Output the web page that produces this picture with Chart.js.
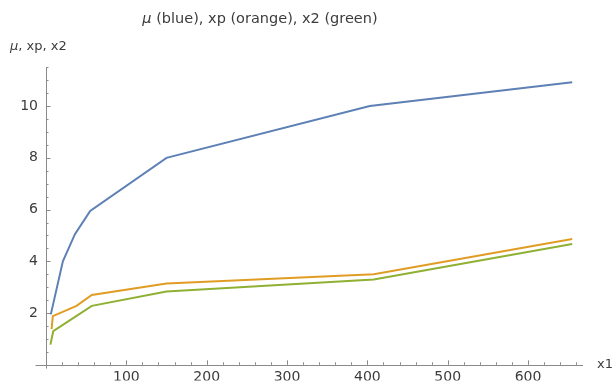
<!DOCTYPE html>
<html>
<head>
<meta charset="utf-8">
<script src="https://cdn.jsdelivr.net/npm/chart.js@4.4.1/dist/chart.umd.min.js"></script>
<style>
  html, body { margin: 0; padding: 0; background: #ffffff; }
  #wrap { width: 612px; height: 385px; position: relative; }
</style>
</head>
<body>
<div id="wrap"><canvas id="c" width="612" height="385"></canvas></div>
<script>
// x1 positions and values of each curve
const xBlue   = [6, 21, 36, 55, 150, 403, 655];
const muBlue  = [1.95, 4.0, 5.05, 5.95, 8.0, 10.0, 10.92];
const xOrange = [7, 8.5, 38, 57, 150, 408, 655];
const xpOrange = [1.38, 1.88, 2.28, 2.7, 3.14, 3.5, 4.86];
const xGreen  = [5.5, 9, 57, 150, 408, 655];
const x2Green = [0.78, 1.3, 2.28, 2.83, 3.3, 4.67];

// axis ranges and tick steps
const xRange = [0, 668.4];
const xAxisStart = -13;      // horizontal axis runs a little left of the origin
const yRange = [-0.145, 11.51];
const xMajorStep = 100, xMinorStep = 20;
const yMajorStep = 2, yMinorStep = 0.5;

const titleParts = [["μ", "italic"], [" (blue), xp (orange), x2 (green)", "normal"]];
const yAxisTitle = [["μ", "italic"], [", xp, x2", "normal"]];
const xAxisTitle = "x1";

const FONT = "'DejaVu Sans', sans-serif";
const AXIS_COLOR = "#8a8a8a";
const TEXT_COLOR = "#3c3c3c";

const pts = (xs, ys) => xs.map((x, i) => ({ x: x, y: ys[i] }));

function drawParts(ctx, parts, x, y, size, align) {
  let total = 0;
  const widths = parts.map(([t, style]) => {
    ctx.font = style + " " + size + "px " + FONT;
    const w = ctx.measureText(t).width;
    total += w;
    return w;
  });
  let cx = align === "center" ? x - total / 2 : x;
  ctx.textAlign = "left";
  ctx.textBaseline = "middle";
  parts.forEach(([t, style], i) => {
    ctx.font = style + " " + size + "px " + FONT;
    ctx.fillText(t, cx, y);
    cx += widths[i];
  });
}

// Axes through the origin with inward ticks, plus title and axis labels
const axesPlugin = {
  id: "originAxes",
  beforeDatasetsDraw(chart) {
    const ctx = chart.ctx;
    const xs = chart.scales.x, ys = chart.scales.y;
    const area = chart.chartArea;
    const x0 = xs.getPixelForValue(0);
    const y0 = ys.getPixelForValue(0);
    ctx.save();
    ctx.strokeStyle = AXIS_COLOR;
    ctx.lineWidth = 1;
    ctx.beginPath();
    ctx.moveTo(xs.getPixelForValue(xAxisStart), Math.round(y0) + 0.5);
    ctx.lineTo(area.right, Math.round(y0) + 0.5);
    ctx.moveTo(Math.round(x0) + 0.5, area.top);
    ctx.lineTo(Math.round(x0) + 0.5, area.bottom);
    ctx.stroke();

    ctx.beginPath();
    for (let v = xMinorStep; v <= xRange[1]; v += xMinorStep) {
      const px = Math.round(xs.getPixelForValue(v)) + 0.5;
      const len = (v % xMajorStep === 0) ? 4.5 : 2.5;
      ctx.moveTo(px, y0);
      ctx.lineTo(px, y0 - len);
    }
    for (let v = yMinorStep; v <= yRange[1] + 1e-9; v += yMinorStep) {
      const py = Math.round(ys.getPixelForValue(v)) + 0.5;
      const len = (Math.abs(v % yMajorStep) < 1e-9) ? 4.5 : 2.5;
      ctx.moveTo(x0, py);
      ctx.lineTo(x0 + len, py);
    }
    ctx.stroke();

    ctx.fillStyle = TEXT_COLOR;
    drawParts(ctx, titleParts, 260, 19, 14.5, "center");
    drawParts(ctx, yAxisTitle, 10, 47, 13, "left");
    ctx.font = "normal 13px " + FONT;
    ctx.textAlign = "left";
    ctx.textBaseline = "middle";
    ctx.fillText(xAxisTitle, 597, y0);
    ctx.restore();
  }
};

new Chart(document.getElementById("c"), {
  type: "line",
  data: {
    datasets: [
      { label: "μ", data: pts(xBlue, muBlue), borderColor: "#5e81b5" },
      { label: "xp", data: pts(xOrange, xpOrange), borderColor: "#e19c24" },
      { label: "x2", data: pts(xGreen, x2Green), borderColor: "#8fb032" }
    ]
  },
  options: {
    responsive: false,
    animation: false,
    events: [],
    layout: { padding: { left: 0, right: 29, top: 67, bottom: 0 } },
    elements: {
      line: { borderWidth: 2, tension: 0, fill: false },
      point: { radius: 0, hoverRadius: 0 }
    },
    plugins: { legend: { display: false }, tooltip: { enabled: false }, title: { display: false } },
    scales: {
      x: {
        type: "linear",
        min: xRange[0],
        max: xRange[1],
        grid: { display: false, drawTicks: false },
        border: { display: false },
        ticks: {
          stepSize: xMajorStep,
          includeBounds: false,
          autoSkip: false,
          maxRotation: 0,
          padding: 0,
          color: TEXT_COLOR,
          font: { family: FONT, size: 14 },
          callback: (v) => (v > 0 && v % xMajorStep === 0) ? String(v) : ""
        },
        afterFit: (s) => { s.height = 12; }
      },
      y: {
        type: "linear",
        min: yRange[0],
        max: yRange[1],
        grid: { display: false, drawTicks: false },
        border: { display: false },
        ticks: {
          stepSize: yMajorStep,
          includeBounds: false,
          autoSkip: false,
          padding: 8,
          color: TEXT_COLOR,
          font: { family: FONT, size: 14 },
          callback: (v) => (v > 0 && Math.abs(v % yMajorStep) < 1e-9) ? String(v) : ""
        },
        afterFit: (s) => { s.width = 46; }
      }
    }
  },
  plugins: [axesPlugin]
});
</script>
</body>
</html>
